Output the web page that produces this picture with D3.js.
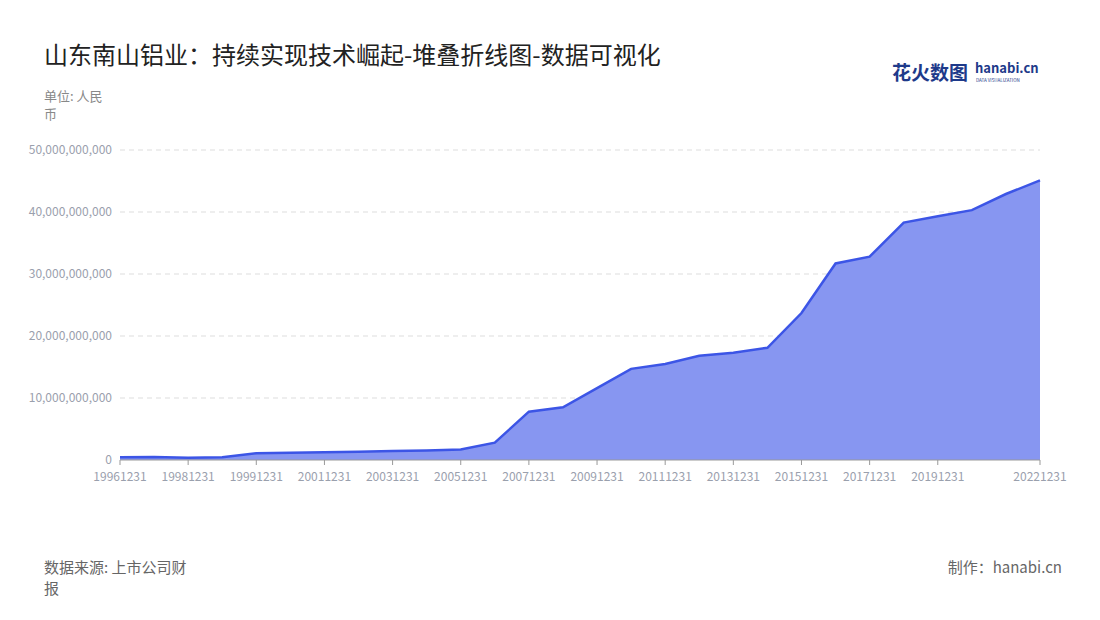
<!DOCTYPE html>
<html><head><meta charset="utf-8">
<script src="https://cdn.jsdelivr.net/npm/d3@7"></script>
<style>body{margin:0;background:#fff;font-family:"Noto Sans CJK SC","Noto Sans",sans-serif}</style>
</head><body><svg id="c" width="1100" height="620"></svg>
<script>
const categories=["19961231","19971231","19981231","19990630","19991231","20001231","20011231","20021231","20031231","20041231","20051231","20061231","20071231","20081231","20091231","20101231","20111231","20121231","20131231","20141231","20151231","20161231","20171231","20181231","20191231","20201231","20211231","20221231"];
const values=[0.45,0.5,0.35,0.45,1.1,1.15,1.25,1.35,1.45,1.55,1.7,2.8,7.8,8.5,11.6,14.7,15.5,16.8,17.3,18.1,23.7,31.7,32.8,38.3,39.3,40.3,42.9,45.1].map(v=>v*1e9);
const yTicks=[0,1e10,2e10,3e10,4e10,5e10];
const svg=d3.select("#c");
const x=d3.scalePoint().domain(categories).range([120,1040]);
const y=d3.scaleLinear().domain([0,5e10]).range([460,150]);
const f="#9aa0ad";
svg.append("text").attr("x",44).attr("y",64).attr("font-size",24).attr("fill","#222").text("山东南山铝业：持续实现技术崛起-堆叠折线图-数据可视化");
svg.append("text").attr("x",44).attr("y",101).attr("font-size",13).attr("fill","#888").text("单位: 人民");
svg.append("text").attr("x",44).attr("y",119).attr("font-size",13).attr("fill","#888").text("币");
const g=svg.append("g");
yTicks.forEach(t=>{
 if(t>0) g.append("line").attr("x1",120).attr("x2",1040).attr("y1",y(t)).attr("y2",y(t)).attr("stroke","#ddd").attr("stroke-dasharray","5,4");
 g.append("text").attr("x",112).attr("y",y(t)+4).attr("text-anchor","end").attr("font-size",12).attr("fill",f).text(d3.format(",")(t));
});
const data=categories.map((c,i)=>({c,v:values[i]}));
g.append("path").datum(data).attr("fill","#8796f1").attr("d",d3.area().x(d=>x(d.c)).y0(y(0)).y1(d=>y(d.v)));
g.append("path").datum(data).attr("fill","none").attr("stroke","#3c55e6").attr("stroke-width",2.5).attr("d",d3.line().x(d=>x(d.c)).y(d=>y(d.v)));
g.append("line").attr("x1",120).attr("x2",1040).attr("y1",460).attr("y2",460).attr("stroke","#999");
categories.forEach((c,i)=>{
 const show=(i%2===0&&i!==26)||i===categories.length-1;
 if(!show)return;
 g.append("line").attr("x1",x(c)).attr("x2",x(c)).attr("y1",460).attr("y2",465).attr("stroke","#999");
 g.append("text").attr("x",x(c)).attr("y",481).attr("text-anchor","middle").attr("font-size",12).attr("fill",f).text(c);
});
svg.append("text").attr("x",44).attr("y",573).attr("font-size",15).attr("fill","#666").text("数据来源: 上市公司财");
svg.append("text").attr("x",44).attr("y",594).attr("font-size",15).attr("fill","#666").text("报");
svg.append("text").attr("x",1062).attr("y",573).attr("text-anchor","end").attr("font-size",15).attr("fill","#666").text("制作：hanabi.cn");
svg.append("text").attr("x",892).attr("y",80).attr("font-size",19).attr("font-weight","bold").attr("fill","#1e3a8a").text("花火数图");
svg.append("text").attr("x",975).attr("y",73).attr("font-size",13).attr("font-weight","bold").attr("fill","#1e3a8a").text("hanabi.cn");
svg.append("text").attr("x",976).attr("y",81.5).attr("font-size",4.5).attr("fill","#1e3a8a").text("DATA VISUALIZATION");
</script></body></html>
